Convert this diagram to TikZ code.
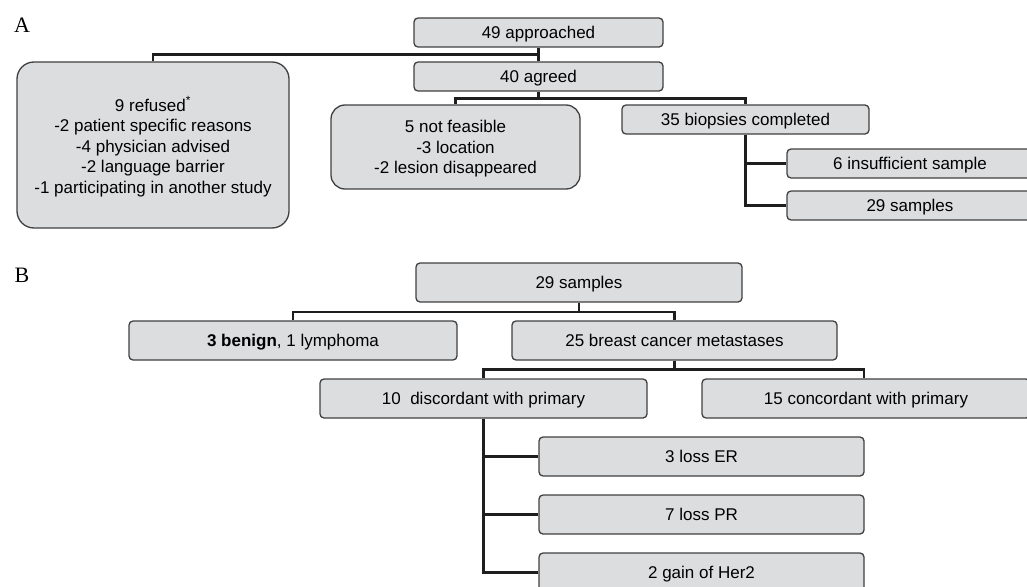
\documentclass[tikz,border=0pt]{standalone}
\usepackage{fontspec}
\setmainfont{Liberation Sans}
\newfontfamily\panelfont{Liberation Serif}
\newlength{\du}
\setlength{\du}{1pt}
\definecolor{boxfill}{RGB}{220,221,223}
\definecolor{boxline}{RGB}{64,64,64}
\definecolor{linkline}{RGB}{30,30,30}

\begin{document}
\begin{tikzpicture}
\tikzstyle{every node}=[font=\fontsize{17}{20.5}\selectfont]
\tikzstyle{flowbox}=[draw=boxline, fill=boxfill, line width=1.3\du, rounded corners=4\du, inner sep=0pt, minimum height=29\du, text height=12.2\du, text depth=0\du, align=center]
\tikzstyle{bigbox}=[flowbox, minimum height=39\du]
\tikzstyle{notebox}=[flowbox, text height={}]
\tikzstyle{link}=[draw=linkline, line width=2.6\du]
\tikzstyle{panellabel}=[font=\panelfont\fontsize{22}{22}\selectfont]
\pgftransformxscale{1.000000}
\pgftransformyscale{-1.000000}
\useasboundingbox (0\du,0\du) rectangle (1027\du,586\du);
\clip (0\du,0\du) rectangle (1027\du,586\du);
% panel A
\node[panellabel] (labelA) at (22\du,25\du){A};
\node[flowbox, minimum width=249\du] (approached) at (538.5\du,32.5\du){49 approached};
\node[flowbox, minimum width=249\du] (agreed) at (538.5\du,76.5\du){40 agreed};
\node[notebox, rounded corners=17\du, minimum width=272\du, minimum height=166\du] (refused) at (153\du,145\du){9 refused\textsuperscript{*}\\-2 patient specific reasons\\-4 physician advised\\-2 language barrier\\-1 participating in another study};
\node[notebox, rounded corners=14\du, minimum width=249\du, minimum height=84\du] (notfeasible) at (455.5\du,147\du){5 not feasible\\-3 location\\-2 lesion disappeared};
\node[flowbox, minimum width=247\du] (biopsies) at (745.5\du,119.5\du){35 biopsies completed};
\node[flowbox, minimum width=246\du] (insufficient) at (910\du,163.5\du){6 insufficient sample};
\node[flowbox, minimum width=246\du] (samplesA) at (910\du,205.5\du){29 samples};
% panel B
\node[panellabel] (labelB) at (22\du,275\du){B};
\node[bigbox, minimum width=326\du] (samplesB) at (579\du,282.5\du){29 samples};
\node[bigbox, minimum width=328\du] (benign) at (293\du,340.5\du){\textbf{3 benign}, 1 lymphoma};
\node[bigbox, minimum width=325\du] (metastases) at (674.5\du,340.5\du){25 breast cancer metastases};
\node[bigbox, minimum width=327\du] (discordant) at (483.5\du,398.5\du){10\ \ discordant with primary};
\node[bigbox, minimum width=328\du] (concordant) at (866\du,398.5\du){15 concordant with primary};
\node[bigbox, minimum width=325\du] (lossER) at (701.5\du,456.5\du){3 loss ER};
\node[bigbox, minimum width=325\du] (lossPR) at (701.5\du,514.5\du){7 loss PR};
\node[bigbox, minimum width=325\du] (gainHer2) at (701.5\du,572.5\du){2 gain of Her2};
% connectors A
\draw[link] (approached) -- (agreed);
\draw[link] (approached.south) -- ++(0,7\du) -| (refused.north);
\draw[link] (agreed.south) -- ++(0,7\du) -| (notfeasible.north);
\draw[link] (agreed.south) -- ++(0,7\du) -| (biopsies.north);
\draw[link] (biopsies.south) |- (insufficient.west);
\draw[link] (biopsies.south) |- (samplesA.west);
% connectors B
\draw[link] (samplesB.south) -- ++(0,9.5\du) -| (benign.north);
\draw[link] (samplesB.south) -- ++(0,9.5\du) -| (metastases.north);
\draw[link] (metastases.south) -- ++(0,9\du) -| (discordant.north);
\draw[link] (metastases.south) -- ++(0,9\du) -| ([xshift=-2\du]concordant.north);
\draw[link] (discordant.south) |- (lossER.west);
\draw[link] (discordant.south) |- (lossPR.west);
\draw[link] (discordant.south) |- (gainHer2.west);
\end{tikzpicture}
\end{document}
